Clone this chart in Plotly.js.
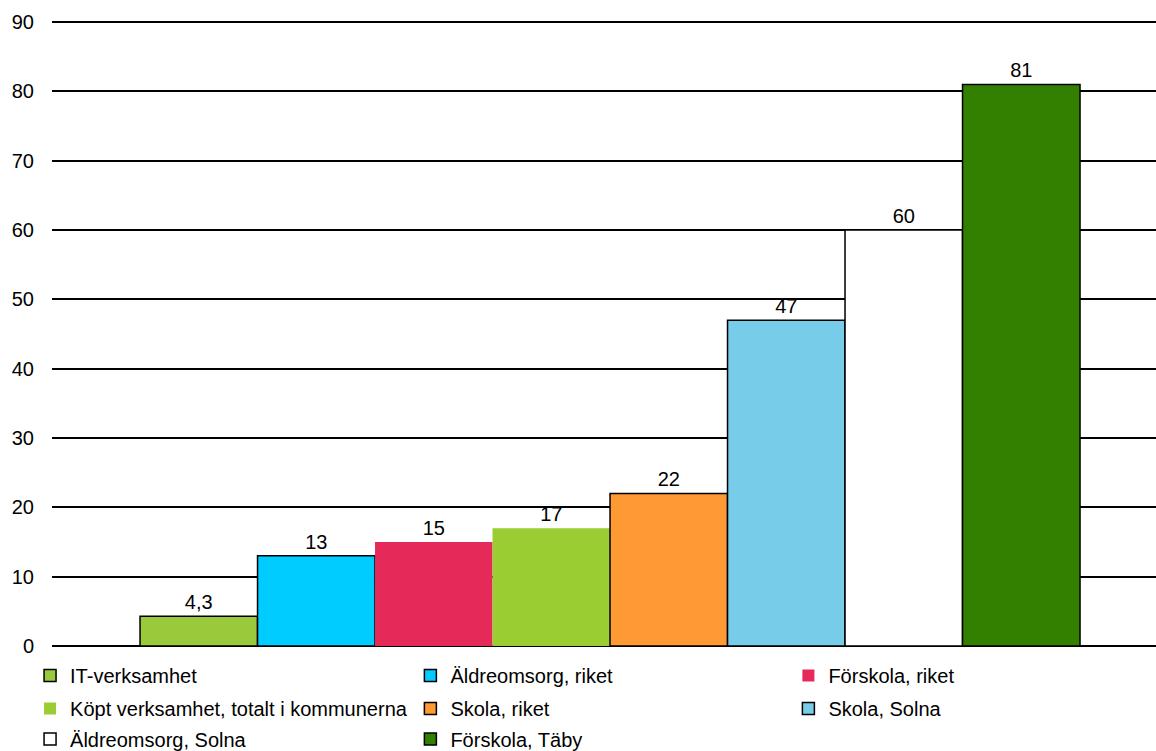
<!DOCTYPE html>
<html>
<head>
<meta charset="utf-8">
<script src="https://cdn.plot.ly/plotly-3.0.1.min.js"></script>
<style>html,body{margin:0;padding:0;background:#fff;}#chart{width:1156px;height:751px;}</style>
</head>
<body>
<div id="chart"></div>
<script>
const seriesNames = ["IT-verksamhet","Äldreomsorg, riket","Förskola, riket","Köpt verksamhet, totalt i kommunerna","Skola, riket","Skola, Solna","Äldreomsorg, Solna","Förskola, Täby"];
const seriesValues = [4.3, 13, 15, 17, 22, 47, 60, 81];
const seriesColors = ["#9BC93C","#00CCFF","#E52A5A","#9ACD32","#FF9933","#77CCEA","#FFFFFF","#338000"];
const seriesOutlined = [true, true, false, false, true, true, true, true];
const yTicks = [0,10,20,30,40,50,60,70,80,90];

const FONT = "Liberation Sans, Arial, sans-serif";
const legendCols = [0.026, 0.355, 0.682];
const legendRows = [0.1006, 0.0566, 0.0160];

const traces = seriesNames.map((n,i)=>({
  type:"bar",
  name:n,
  x:[0],
  y:[seriesValues[i]],
  texttemplate:"%{y}",
  textposition:"outside",
  cliponaxis:false,
  textfont:{family:FONT,size:20,color:"#000"},
  marker:{color:seriesColors[i], line:{color:"#000", width:seriesOutlined[i]?1.5:0}},
  legend: i===0 ? "legend" : "legend"+(i+1),
  hoverinfo:"skip"
}));

const layout = {
  width:1156, height:751,
  margin:{l:52,r:0,t:21,b:105},
  paper_bgcolor:"#fff", plot_bgcolor:"#fff",
  separators:", ",
  barmode:"group",
  bargap:0.15,
  bargroupgap:0,
  showlegend:true,
  font:{family:FONT,size:20,color:"#000"},
  xaxis:{range:[-0.5046,0.4937], showticklabels:false, showgrid:false, zeroline:false, showline:false, ticks:"", fixedrange:true},
  yaxis:{range:[0,90.15], tickvals:yTicks, showgrid:true, gridcolor:"#000", gridwidth:2, zeroline:true, zerolinecolor:"#000", zerolinewidth:2, ticks:"", ticklabelstandoff:17, tickfont:{family:FONT,size:20,color:"#000"}, showline:false}
};
seriesNames.forEach((n,i)=>{
  const key = i===0 ? "legend" : "legend"+(i+1);
  layout[key] = {orientation:"h", xref:"container", yref:"container", xanchor:"left", yanchor:"middle",
    x:legendCols[i%3], y:legendRows[Math.floor(i/3)],
    font:{family:FONT,size:20,color:"#000"}, bgcolor:"rgba(0,0,0,0)", itemwidth:30};
});
Plotly.newPlot("chart", traces, layout, {displayModeBar:false, staticPlot:true});
</script>
</body>
</html>
